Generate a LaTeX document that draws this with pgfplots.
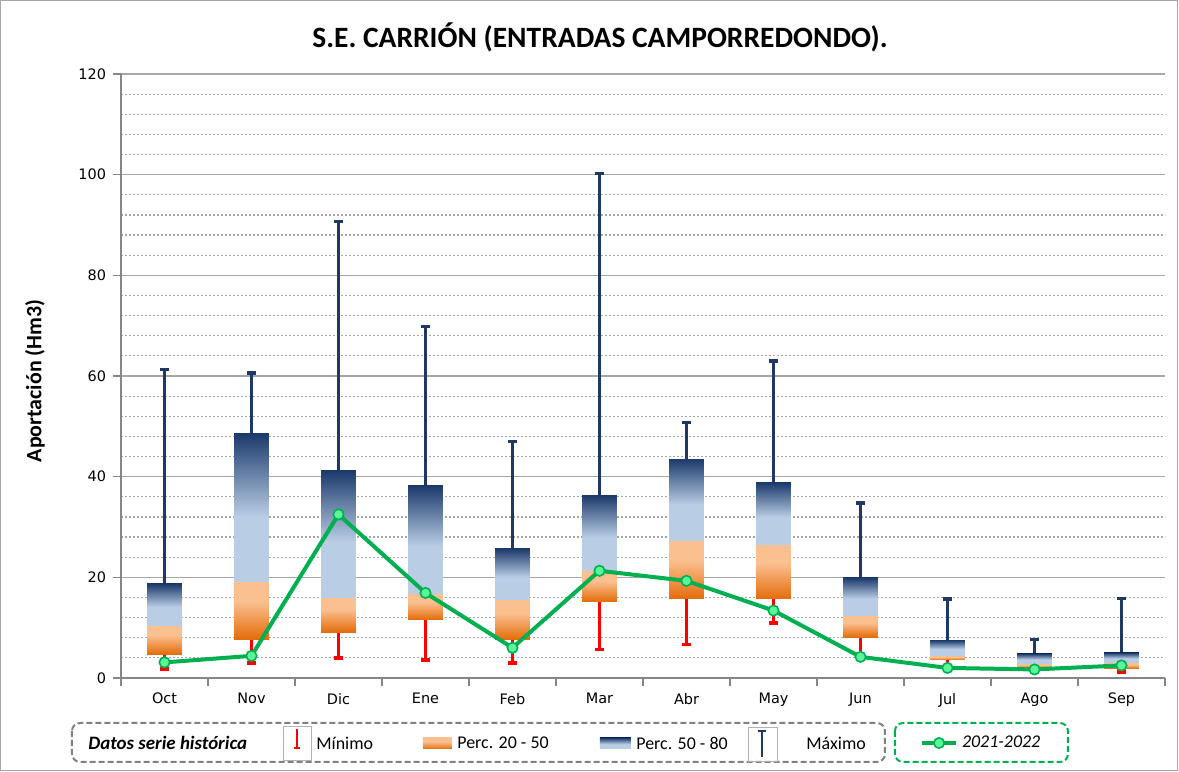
\documentclass[border=0pt]{standalone}
\usepackage{pgfplots}
\pgfplotsset{compat=1.18}
\usepgfplotslibrary{statistics}
\usepackage{fontspec}
\setmainfont{Carlito}
\newfontfamily\dejavu{DejaVu Sans}
\definecolor{navy}{HTML}{1F3864}
\definecolor{lblue}{HTML}{B9CDE5}
\definecolor{dnavy}{HTML}{1C3A6B}
\definecolor{peach}{HTML}{FAC090}
\definecolor{dorange}{HTML}{E46C0A}
\definecolor{lgreen}{HTML}{00B050}
\definecolor{mint}{HTML}{5CF59A}
\definecolor{gridgray}{HTML}{A6A6A6}
\definecolor{axgray}{HTML}{868686}
\pgfdeclareverticalshading{blueshade}{100bp}{color(0bp)=(lblue); color(25bp)=(lblue); color(47bp)=(lblue); color(75bp)=(dnavy); color(100bp)=(dnavy)}
\pgfdeclareverticalshading{orangeshade}{100bp}{color(0bp)=(dorange); color(25bp)=(dorange); color(58bp)=(peach); color(75bp)=(peach); color(100bp)=(peach)}
\pgfplotsset{
  mybox/.style={
  /pgfplots/boxplot/draw/lower whisker/.code={%
    \draw[red, line width=1.5bp] (boxplot box cs:\pgfplotsboxplotvalue{lower whisker},0.5) -- (boxplot box cs:\pgfplotsboxplotvalue{lower quartile},0.5);
    \draw[red, line width=1.7bp] (boxplot box cs:\pgfplotsboxplotvalue{lower whisker},0.37) -- (boxplot box cs:\pgfplotsboxplotvalue{lower whisker},0.63);
  },
  /pgfplots/boxplot/draw/upper whisker/.code={%
    \draw[navy, line width=1.5bp] (boxplot box cs:\pgfplotsboxplotvalue{upper whisker},0.5) -- (boxplot box cs:\pgfplotsboxplotvalue{upper quartile},0.5);
    \draw[navy, line width=1.7bp] (boxplot box cs:\pgfplotsboxplotvalue{upper whisker},0.37) -- (boxplot box cs:\pgfplotsboxplotvalue{upper whisker},0.63);
  },
  /pgfplots/boxplot/draw/box/.code={%
    \shade[draw=none, shading=orangeshade] (boxplot box cs:\pgfplotsboxplotvalue{lower quartile},0) rectangle (boxplot box cs:\pgfplotsboxplotvalue{median},1);
    \shade[draw=none, shading=blueshade] (boxplot box cs:\pgfplotsboxplotvalue{median},0) rectangle (boxplot box cs:\pgfplotsboxplotvalue{upper quartile},1);
  },
  /pgfplots/boxplot/draw/median/.code={},
  /pgfplots/boxplot/draw/average/.code={},
  },
  boxplot/draw direction=y,
  boxplot/box extend=0.4,
}
\newcommand{\bx}[6]{\addplot[forget plot, draw=none, boxplot prepared={draw position=#1, lower whisker=#2, lower quartile=#3, median=#4, upper quartile=#5, upper whisker=#6}, mybox] coordinates {};}
\begin{document}
\begin{tikzpicture}
\useasboundingbox (0,0) rectangle (589.5bp,386bp);
\begin{axis}[
  at={(60.5bp,47bp)}, anchor=south west,
  scale only axis, width=522bp, height=302bp,
  xmin=0.5, xmax=12.5, ymin=0, ymax=120,
  axis lines*=left,
  axis line style={axgray, line width=0.75bp},
  xtick={0.5,1.5,...,12.5},
  x tick label as interval,
  xticklabels={Oct,Nov,Dic,Ene,Feb,Mar,Abr,May,Jun,Jul,Ago,Sep},
  ytick={0,20,...,120},
  minor y tick num=4,
  tick align=outside,
  major tick length=4bp,
  minor tick length=0pt,
  tick style={axgray, line width=0.75bp},
  ymajorgrids, yminorgrids,
  major grid style={gridgray, line width=0.75bp},
  minor grid style={gridgray, line width=0.6bp, dash pattern=on 1bp off 1bp},
  tick label style={font=\dejavu\fontsize{7.25}{8}\selectfont},
  /pgf/number format/assume math mode=true,
  legend style={at={(axis description cs:0.765,-0.1076)}, anchor=west, draw=none, fill=none, inner sep=0pt,
    font=\fontsize{9}{10}\selectfont\itshape},
]
\bx{1}{1.8}{4.7}{10.5}{18.7}{61.3}
\bx{2}{3.0}{7.7}{19.1}{48.5}{60.6}
\bx{3}{4.0}{9.1}{16.0}{41.2}{90.7}
\bx{4}{3.6}{11.6}{16.8}{38.2}{69.8}
\bx{5}{3.0}{7.7}{15.5}{25.7}{47.0}
\bx{6}{5.7}{15.2}{21.3}{36.3}{100.2}
\bx{7}{6.6}{15.7}{27.3}{43.5}{50.8}
\bx{8}{10.9}{15.7}{26.5}{38.8}{63.0}
\bx{9}{4.0}{8.1}{12.5}{19.9}{34.8}
\bx{10}{2.3}{3.6}{4.4}{7.5}{15.7}
\bx{11}{1.8}{2.1}{2.8}{4.8}{7.6}
\bx{12}{1.2}{1.9}{3.0}{5.0}{15.8}
\addplot[solid, lgreen, line width=2bp, mark=*, mark size=2.6bp, mark options={fill=mint, draw=lgreen, line width=0.8bp}]
  coordinates {(1,3.1) (2,4.4) (3,32.5) (4,16.9) (5,6.0) (6,21.3) (7,19.3) (8,13.4) (9,4.2) (10,2.0) (11,1.7) (12,2.5)};
\addlegendentry{\textit{2021-2022}}
\end{axis}
\begin{scope}[x=0.5bp, y=-0.5bp, yshift=386bp]
  \draw[gray!70, line width=0.5bp] (1,1) rectangle (1178,771);
  \node[font=\bfseries\fontsize{14.8}{17}\selectfont] at (600,37) {S.E. CARRIÓN (ENTRADAS CAMPORREDONDO).};
  \node[rotate=90, font=\bfseries\fontsize{11}{13}\selectfont] at (35,381) {Aportación (Hm3)};
  % historical legend
  \draw[gray, line width=1bp, dash pattern=on 3bp off 1.5bp, rounded corners=4bp] (72,723) rectangle (885,762);
  \draw[lgreen, line width=1bp, dash pattern=on 3bp off 1.5bp, rounded corners=4bp] (895,723) rectangle (1068,762);
  \node[anchor=west, font=\bfseries\itshape\fontsize{9.5}{11}\selectfont, inner sep=0pt] at (88,743) {Datos serie histórica};
  \draw[gray!60, line width=0.4bp] (283,726) rectangle (311,760);
  \draw[red, line width=1.2bp] (297,729) -- (297,748);
  \draw[red, line width=1.4bp] (294,748) -- (300,748);
  \node[anchor=west, font=\fontsize{9}{11}\selectfont, inner sep=0pt] at (316,743) {Mínimo};
  \shade[shading=orangeshade] (423,738) rectangle (452,749);
  \node[anchor=west, font=\fontsize{9}{11}\selectfont, inner sep=0pt] at (457,743) {Perc. 20 - 50};
  \shade[shading=blueshade] (600,738) rectangle (631,749);
  \node[anchor=west, font=\fontsize{9}{11}\selectfont, inner sep=0pt] at (636,743) {Perc. 50 - 80};
  \draw[gray!60, line width=0.4bp] (748,727) rectangle (777,761);
  \draw[navy, line width=1.2bp] (762,731) -- (762,757);
  \draw[navy, line width=1.4bp] (758,731) -- (766,731);
  \node[anchor=west, font=\fontsize{9}{11}\selectfont, inner sep=0pt] at (806,743) {Máximo};
\end{scope}
\end{tikzpicture}
\end{document}
